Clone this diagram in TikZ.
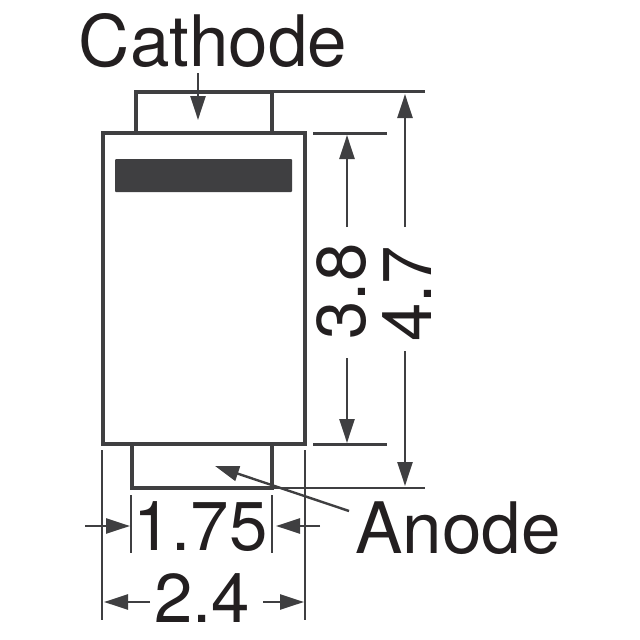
\documentclass[tikz,border=0pt]{standalone}
\usepackage{fontspec}
\setmainfont{TeX Gyre Heros}
\usetikzlibrary{arrows.meta}
\definecolor{ink}{HTML}{3F3F41}
\definecolor{txt}{HTML}{231F20}
\tikzset{
  body/.style={draw=ink,line width=4.5pt,fill=white},
  tab/.style={draw=ink,line width=4.5pt},
  ext/.style={draw=ink,line width=2.6pt},
  thinext/.style={draw=ink,line width=1.8pt},
  dim/.style={draw=ink,line width=2.4pt,-{Triangle[length=24pt,width=15pt]},shorten >=0pt},
  lbl/.style={text=txt,inner sep=0pt,font=\fontsize{71}{71}\selectfont,anchor=base},
  numlbl/.style={lbl,font=\fontsize{69}{69}\selectfont},
  bar/.style={fill=ink,rounded corners=1pt}
}
\begin{document}
\begin{tikzpicture}[x=1pt,y=-1pt]
\useasboundingbox (0,0) rectangle (640,640);
% package
\draw[tab] (136,133) -- (136,92) -- (272,92) -- (272,133);
\draw[tab] (132,444) -- (132,488) -- (272,488) -- (272,444);
\node[body,minimum width=202pt,minimum height=311pt,inner sep=0pt] (pkg) at (204,288.5) {};
\node[bar,minimum width=177pt,minimum height=33pt,inner sep=0pt] (mark) at (203.5,175.5) {};
% named points
\coordinate (tr) at (272,91.5);
\coordinate (trE) at (425,91.5);
\coordinate (br) at (272,488);
\coordinate (brE) at (425,488);
\coordinate (a) at (313,133.5);
\coordinate (aE) at (387,133.5);
\coordinate (b) at (313,444.5);
\coordinate (bE) at (387,444.5);
\draw[ext] (tr) -- (trE);
\draw[ext] (br) -- (brE);
\draw[ext] (a) -- (aE);
\draw[ext] (b) -- (bE);
% extension lines below
\coordinate (l1) at (102,450); \coordinate (l2) at (102,620);
\coordinate (r1) at (305,450); \coordinate (r2) at (305,620);
\coordinate (m1) at (131,495); \coordinate (m2) at (131,553);
\coordinate (n1) at (272,495); \coordinate (n2) at (272,553);
\draw[ext] (l1) -- (l2);
\draw[ext] (r1) -- (r2);
\draw[thinext] (m1) -- (m2);
\draw[thinext] (n1) -- (n2);
% labels
\node[lbl] (cathode) at (213,66) {Cathode};
\node[lbl] (anode) at (458,553) {Anode};
\node[numlbl] (d175) at (200.5,550) {1.75};
\node[numlbl] (d24) at (202,622) {2.4};
\node[numlbl,rotate=90] (d38) at (365,291.5) {3.8};
\node[numlbl,rotate=90] (d47) at (431,294) {4.7};
% arrows
\coordinate (c1) at (198,73); \coordinate (c2) at (198,120);
\draw[dim] (c1) -- (c2);
\coordinate (an1) at (349,511); \coordinate (an2) at (215,466);
\draw[dim] (an1) -- (an2);
\coordinate (p1) at (347,227); \coordinate (p2) at (347,135);
\draw[dim] (p1) -- (p2);
\coordinate (p3) at (347,358); \coordinate (p4) at (347,443);
\draw[dim] (p3) -- (p4);
\coordinate (q1) at (405,227); \coordinate (q2) at (405,94);
\draw[dim] (q1) -- (q2);
\coordinate (q3) at (405,351); \coordinate (q4) at (405,486);
\draw[dim] (q3) -- (q4);
\coordinate (h1) at (85,526); \coordinate (h2) at (130,526);
\draw[dim] (h1) -- (h2);
\coordinate (h3) at (320,526); \coordinate (h4) at (276,526);
\draw[dim] (h3) -- (h4);
\coordinate (g1) at (150,602); \coordinate (g2) at (104,602);
\draw[dim] (g1) -- (g2);
\coordinate (g3) at (263,602); \coordinate (g4) at (304,602);
\draw[dim] (g3) -- (g4);
\end{tikzpicture}
\end{document}
